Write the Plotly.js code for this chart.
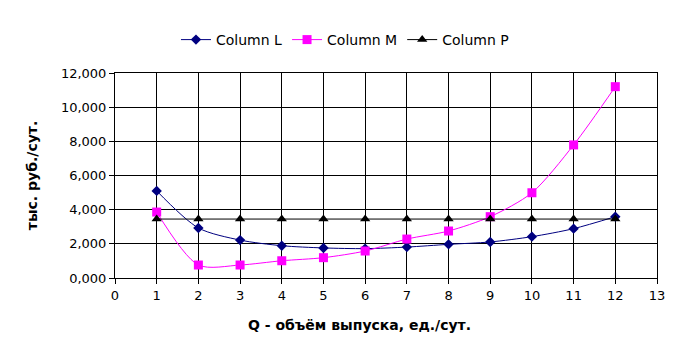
<!DOCTYPE html>
<html><head><meta charset="utf-8">
<script src="https://cdn.plot.ly/plotly-3.0.1.min.js"></script>
<style>body{margin:0;background:#fff}#c{width:693px;height:352px}</style>
</head><body><div id="c"></div>
<script>
const xValues = [1,2,3,4,5,6,7,8,9,10,11,12];
const columnL = [5.10,2.93,2.22,1.89,1.76,1.72,1.81,1.97,2.11,2.42,2.89,3.59];
const columnM = [3.86,0.76,0.76,1.01,1.19,1.58,2.28,2.75,3.59,4.99,7.79,11.20];
const columnP = [3.45,3.45,3.45,3.45,3.45,3.45,3.45,3.45,3.45,3.45,3.45,3.45];
const seriesNames = ['Column L','Column M','Column P'];
const xTitle = 'Q - объём выпуска, ед./сут.';
const yTitle = 'тыс. руб./сут.';

const font = {family:'DejaVu Sans, sans-serif', size:13, color:'#000'};
const legendFont = {family:'DejaVu Sans, sans-serif', size:14, color:'#000'};
const titleFont = {family:'DejaVu Sans, sans-serif', size:14, color:'#000'};
const traces = [
  {x:xValues, y:columnL, name:seriesNames[0], mode:'lines+markers',
   line:{color:'#000080', width:1, shape:'spline', smoothing:0.8},
   marker:{symbol:'diamond', size:8, color:'#000080'}},
  {x:xValues, y:columnM, name:seriesNames[1], mode:'lines+markers',
   line:{color:'#FF00FF', width:1, shape:'spline', smoothing:0.8},
   marker:{symbol:'square', size:9, color:'#FF00FF'}},
  {x:xValues, y:columnP, name:seriesNames[2], mode:'lines+markers',
   line:{color:'#000000', width:1},
   marker:{symbol:'triangle-up', size:9, color:'#000000'}}
];
const layout = {
  width:693, height:352, paper_bgcolor:'#fff', plot_bgcolor:'#fff',
  font:font, separators:', ',
  margin:{l:115, r:36, t:73, b:74},
  showlegend:true,
  legend:{orientation:'h', x:0.1125, xanchor:'left', xref:'paper', y:1.161, yanchor:'middle', yref:'paper', font:legendFont},
  annotations:[{text:'<b>'+xTitle+'</b>', xref:'paper', yref:'paper', x:0.452, y:-0.23, xanchor:'center', yanchor:'middle', showarrow:false, font:titleFont}],
  xaxis:{range:[0,13], dtick:1, tick0:0, showgrid:true, gridcolor:'#000', gridwidth:1,
    zeroline:false, showline:true, linecolor:'#000', linewidth:1, mirror:true,
    ticks:'outside', ticklen:5, tickcolor:'#000', tickfont:font},
  yaxis:{range:[0,12], dtick:2, tick0:0, tickformat:'.3f', showgrid:true, gridcolor:'#000', gridwidth:1,
    zeroline:false, showline:true, linecolor:'#000', linewidth:1, mirror:true,
    ticks:'outside', ticklen:5, tickcolor:'#000', tickfont:font,
    title:{text:'<b>'+yTitle+'</b>', font:titleFont, standoff:20}}
};
Plotly.newPlot('c', traces, layout, {displayModeBar:false, staticPlot:true});
</script></body></html>
